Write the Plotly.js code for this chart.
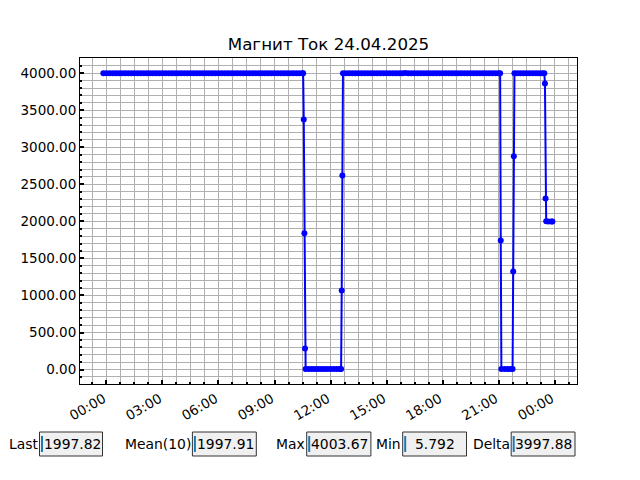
<!DOCTYPE html>
<html>
<head>
<meta charset="utf-8">
<script src="https://cdn.plot.ly/plotly-3.0.1.min.js"></script>
<style>html,body{margin:0;padding:0;background:#fff;}#chart{width:640px;height:480px;}</style>
</head>
<body>
<div id="chart"></div>
<script>
// Sample times (MM-DD HH:MM, year 2025) and current values
const times = [
"04-23 23:50",
"04-24 00:00","04-24 00:10","04-24 00:20","04-24 00:30","04-24 00:40","04-24 00:50",
"04-24 01:00","04-24 01:10","04-24 01:20","04-24 01:30","04-24 01:40","04-24 01:50",
"04-24 02:00","04-24 02:10","04-24 02:20","04-24 02:30","04-24 02:40","04-24 02:50",
"04-24 03:00","04-24 03:10","04-24 03:20","04-24 03:30","04-24 03:40","04-24 03:50",
"04-24 04:00","04-24 04:10","04-24 04:20","04-24 04:30","04-24 04:40","04-24 04:50",
"04-24 05:00","04-24 05:10","04-24 05:20","04-24 05:30","04-24 05:40","04-24 05:50",
"04-24 06:00","04-24 06:10","04-24 06:20","04-24 06:30","04-24 06:40","04-24 06:50",
"04-24 07:00","04-24 07:10","04-24 07:20","04-24 07:30","04-24 07:40","04-24 07:50",
"04-24 08:00","04-24 08:10","04-24 08:20","04-24 08:30","04-24 08:40","04-24 08:50",
"04-24 09:00","04-24 09:10","04-24 09:20","04-24 09:30","04-24 09:40","04-24 09:50",
"04-24 10:00","04-24 10:10","04-24 10:20","04-24 10:30","04-24 10:32","04-24 10:34","04-24 10:36","04-24 10:38","04-24 10:40","04-24 10:50",
"04-24 11:00","04-24 11:10","04-24 11:20","04-24 11:30","04-24 11:40","04-24 11:50",
"04-24 12:00","04-24 12:10","04-24 12:20","04-24 12:30","04-24 12:34","04-24 12:36","04-24 12:38","04-24 12:40","04-24 12:50",
"04-24 13:00","04-24 13:10","04-24 13:20","04-24 13:30","04-24 13:40","04-24 13:50",
"04-24 14:00","04-24 14:10","04-24 14:20","04-24 14:30","04-24 14:40","04-24 14:50",
"04-24 15:00","04-24 15:10","04-24 15:20","04-24 15:30","04-24 15:40","04-24 15:50",
"04-24 16:00","04-24 16:10","04-24 16:20","04-24 16:30","04-24 16:40","04-24 16:50",
"04-24 17:00","04-24 17:10","04-24 17:20","04-24 17:30","04-24 17:40","04-24 17:50",
"04-24 18:00","04-24 18:10","04-24 18:20","04-24 18:30","04-24 18:40","04-24 18:50",
"04-24 19:00","04-24 19:10","04-24 19:20","04-24 19:30","04-24 19:40","04-24 19:50",
"04-24 20:00","04-24 20:10","04-24 20:20","04-24 20:30","04-24 20:40","04-24 20:50",
"04-24 21:00","04-24 21:05","04-24 21:07","04-24 21:09","04-24 21:20","04-24 21:30","04-24 21:40","04-24 21:45","04-24 21:47","04-24 21:49","04-24 21:51",
"04-24 22:00","04-24 22:10","04-24 22:20","04-24 22:30","04-24 22:40","04-24 22:50",
"04-24 23:00","04-24 23:10","04-24 23:20","04-24 23:27","04-24 23:29","04-24 23:31","04-24 23:33","04-24 23:40","04-24 23:50","04-24 23:53"
];
const current = [
4000,
4000,4000,4000,4000,4000,4000,
4000,4000,4000,4000,4000,4000,
4000,4000,4000,4000,4000,4000,
4000,4000,4000,4000,4000,4000,
4000,4000,4000,4000,4000,4000,
4000,4000,4000,4000,4000,4000,
4000,4000,4000,4000,4000,4000,
4000,4000,4000,4000,4000,4000,
4000,4000,4000,4000,4000,4000,
4000,4000,4000,4000,4000,4000,
4000,4000,4000,4000,4000,3374,1838,284,8,7,
7,6,8,7,5.79,7,
7,8,6,7,8,1068,2620,4000,4000,
4000,4000,4000,4000,4000,4000,
4000,4000,4000,4000,4000,4000,
4000,4000,4000,4000,4000,4000,
4003.67,4000,4000,4000,4000,4000,
4000,4000,4000,4000,4000,4000,
4000,4000,4000,4000,4000,4000,
4000,4000,4000,4000,4000,4000,
4000,4000,4000,4000,4000,4000,
4000,4000,1743,6,7,6,7,6,1324,2878,4000,
4000,4000,4000,4000,4000,4000,
4000,4000,4000,4000,3860,2307,2000,1998,1998,1997.82
];
const statLabels = ["Last","Mean(10)","Max","Min","Delta"];
const statValues = ["1997.82","1997.91","4003.67","5.792","3997.88"];
const xTickFormat = "%H:%M";
const chartTitle = "Магнит Ток 24.04.2025";

const W = 640, H = 480;
const M = {l: 80, r: 63, t: 58, b: 96};
const pw = W - M.l - M.r, ph = H - M.t - M.b;
const px2x = px => (px - M.l) / pw;
const px2y = py => (H - M.b - py) / ph;

const FONT = "DejaVu Sans";
const gridColor = "#b0b0b0";

const trace = {
  x: times.map(t => "2025-" + t),
  y: current,
  type: "scatter",
  mode: "lines+markers",
  line: {color: "#0000ff", width: 2},
  marker: {color: "#0000ff", size: 6},
  hoverinfo: "x+y",
  showlegend: false
};

// Stat boxes (TextBox widgets) positions in pixels
const boxes = [
  {left: 39.5, right: 102.5, tx: 42.5},
  {left: 192.4, right: 256.3, tx: 195.5},
  {left: 306.7, right: 370.9, tx: 309.5},
  {left: 402.7, right: 466.5, tx: 414},
  {left: 511.2, right: 575, tx: 514}
];
const boxTop = 432, boxBot = 456, boxMid = 444;
const shapes = [], annotations = [];
boxes.forEach((b, i) => {
  shapes.push({type: "rect", xref: "paper", yref: "paper",
    x0: px2x(b.left), x1: px2x(b.right), y0: px2y(boxBot), y1: px2y(boxTop),
    fillcolor: "#f0f0f0", line: {color: "#333333", width: 1}, layer: "above"});
  shapes.push({type: "line", xref: "paper", yref: "paper",
    x0: px2x(b.left + 2.5), x1: px2x(b.left + 2.5), y0: px2y(452), y1: px2y(436),
    line: {color: "#1f77b4", width: 2}, layer: "above"});
  annotations.push({xref: "paper", yref: "paper", x: px2x(b.left - 0.5), y: px2y(boxMid),
    xanchor: "right", yanchor: "middle", showarrow: false, text: statLabels[i],
    font: {family: FONT, size: 13.9, color: "#000"}, borderpad: 0});
  annotations.push({xref: "paper", yref: "paper", x: px2x(b.tx), y: px2y(boxMid),
    xanchor: "left", yanchor: "middle", showarrow: false, text: statValues[i],
    font: {family: FONT, size: 13.9, color: "#000"}, borderpad: 0});
});

const layout = {
  width: W, height: H,
  margin: M,
  paper_bgcolor: "#ffffff",
  plot_bgcolor: "#ffffff",
  font: {family: FONT, size: 13, color: "#000"},
  title: {text: chartTitle, font: {family: FONT, size: 16.7, color: "#000"},
    x: 0.5, xref: "paper", y: 1 - 44 / H, yref: "container", xanchor: "center", yanchor: "middle"},
  xaxis: {
    type: "date",
    range: ["2025-04-23 22:35", "2025-04-25 01:12"],
    tick0: "2025-04-24 00:00", dtick: 3 * 3600000,
    tickformat: xTickFormat, tickangle: -30,
    ticklabelshift: -3, ticklabelstandoff: 1,
    ticks: "inside", ticklen: 4, tickwidth: 2, tickcolor: "#000",
    showline: true, linecolor: "#000", linewidth: 1, mirror: true,
    showgrid: true, gridcolor: gridColor, gridwidth: 1, zeroline: false,
    tickfont: {family: FONT, size: 13.5, color: "#000"},
    minor: {tick0: "2025-04-24 00:00", dtick: 45 * 60000, ticks: "inside", ticklen: 2,
      tickcolor: "#000", showgrid: true, gridcolor: gridColor, gridwidth: 1}
  },
  yaxis: {
    range: [-195, 4205],
    tick0: 0, dtick: 500, tickformat: ".2f",
    ticks: "inside", ticklen: 4, tickwidth: 2, tickcolor: "#000",
    showline: true, linecolor: "#000", linewidth: 1, mirror: true,
    showgrid: true, gridcolor: gridColor, gridwidth: 1, zeroline: false,
    tickfont: {family: FONT, size: 13.5, color: "#000"},
    minor: {tick0: 0, dtick: 100, ticks: "inside", ticklen: 2, tickcolor: "#000",
      showgrid: true, gridcolor: gridColor, gridwidth: 1}
  },
  shapes: shapes,
  annotations: annotations
};

Plotly.newPlot("chart", [trace], layout, {displayModeBar: false, staticPlot: true});
</script>
</body>
</html>
